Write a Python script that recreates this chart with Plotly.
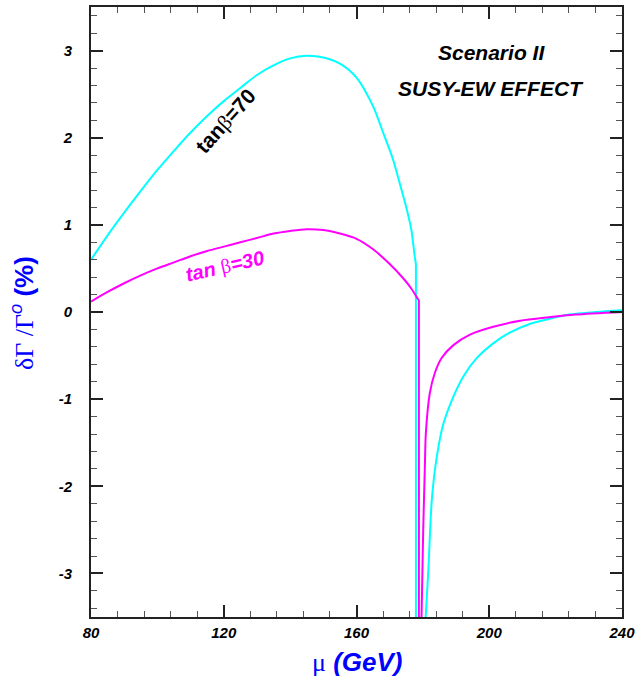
import plotly.graph_objects as go

# ---- data ----
# tan(beta)=70 (cyan)
mu_c_left = [80, 85, 90, 95, 100, 105, 110, 115, 120, 125, 130, 135, 140, 145,
             150, 155, 160, 165, 168, 171, 173, 175, 176.5, 177.6, 177.9]
dg_c_left = [0.60, 0.88, 1.14, 1.39, 1.63, 1.85, 2.06, 2.25, 2.42, 2.57, 2.72, 2.83, 2.91, 2.94,
             2.92, 2.85, 2.69, 2.36, 2.06, 1.75, 1.48, 1.20, 0.95, 0.62, 0.55]
mu_c_right = [180.5, 181.0, 181.7, 182.7, 184.2, 186.2, 189.2, 192.2, 196.2, 201.2,
              206, 212, 218, 224, 232, 240]
dg_c_right = [-3.7, -3.4, -2.92, -2.15, -1.66, -1.28, -0.97, -0.74, -0.53, -0.36,
              -0.24, -0.14, -0.08, -0.03, 0.0, 0.02]

# tan(beta)=30 (magenta)
mu_m_left = [80, 85, 90, 95, 100, 105, 110, 115, 120, 125, 130, 135, 140, 145,
             150, 155, 160, 165, 170, 174, 176.5, 178.6, 178.8]
dg_m_left = [0.12, 0.23, 0.33, 0.42, 0.50, 0.57, 0.64, 0.70, 0.75, 0.80, 0.85, 0.90, 0.93, 0.95,
             0.94, 0.90, 0.84, 0.72, 0.55, 0.39, 0.27, 0.145, 0.14]
mu_m_right = [179.5, 179.9, 180.1, 180.6, 180.9, 182.1, 183.6, 185.6, 189.2, 194.2,
              201.2, 209.3, 218, 226, 240]
dg_m_right = [-3.7, -2.9, -2.5, -1.77, -1.39, -0.93, -0.70, -0.53, -0.38, -0.26,
              -0.17, -0.10, -0.06, -0.03, 0.0]

# the curves fall off the bottom of the frame at the threshold
dg_drop_bottom = -3.7

x_ticks = [80, 120, 160, 200, 240]
x_ticktext = ["80", "120", "160", "200", "240"]
y_ticks = [-3, -2, -1, 0, 1, 2, 3]
y_ticktext = ["-3", "-2", "-1", "0", "1", "2", "3"]

CYAN = "#00ffff"
MAGENTA = "#ff00ff"
BLUE = "#0000ff"

fig = go.Figure()


def add_series(mu_l, dg_l, mu_r, dg_r, color, name):
    fig.add_trace(go.Scatter(x=mu_l, y=dg_l, mode="lines",
                             line=dict(color=color, width=2, shape="spline", smoothing=0.8),
                             name=name))
    fig.add_trace(go.Scatter(x=[mu_l[-1], mu_l[-1]], y=[dg_l[-1], dg_drop_bottom],
                             mode="lines", line=dict(color=color, width=2),
                             name=name, showlegend=False))
    fig.add_trace(go.Scatter(x=mu_r, y=dg_r, mode="lines",
                             line=dict(color=color, width=2, shape="spline", smoothing=0.8),
                             name=name, showlegend=False))


add_series(mu_c_left, dg_c_left, mu_c_right, dg_c_right, CYAN, "tanβ=70")
add_series(mu_m_left, dg_m_left, mu_m_right, dg_m_right, MAGENTA, "tanβ=30")

tickfont = dict(family="Liberation Sans, Arial", size=15, color="black",
                weight="bold", style="italic")

fig.update_xaxes(range=[80, 240], tickvals=x_ticks, ticktext=x_ticktext,
                 ticks="inside", ticklen=12, tickwidth=1.5, tickcolor="#222",
                 showline=True, linewidth=2, linecolor="#222", mirror="allticks",
                 showgrid=False, zeroline=False, tickfont=tickfont,
                 ticklabelstandoff=1, automargin=False,
                 minor=dict(dtick=8, tick0=80, ticks="inside", ticklen=6,
                            tickwidth=1.2, tickcolor="#555", showgrid=False))
fig.update_yaxes(range=[-3.5, 3.5], tickvals=y_ticks, ticktext=y_ticktext,
                 ticks="inside", ticklen=12, tickwidth=1.5, tickcolor="#222",
                 showline=True, linewidth=2, linecolor="#222", mirror="allticks",
                 showgrid=False, zeroline=False, tickfont=tickfont,
                 ticklabelstandoff=14, automargin=False,
                 minor=dict(dtick=0.2, tick0=0, ticks="inside", ticklen=6,
                            tickwidth=1.2, tickcolor="#555", showgrid=False))

serif = "font-family:'Liberation Serif','Times New Roman';font-weight:normal;font-style:normal"

PLOT_TOP, PLOT_BOT, PLOT_L, PLOT_R = 7, 617, 91, 622


def px_to_paper_y(py):
    return (PLOT_BOT - py) / (PLOT_BOT - PLOT_TOP)


def px_to_paper_x(px):
    return (px - PLOT_L) / (PLOT_R - PLOT_L)


def note(text, px, py, size, color, angle=0):
    return dict(text=text, x=px_to_paper_x(px), y=px_to_paper_y(py),
                xref="paper", yref="paper", xanchor="center", yanchor="middle",
                showarrow=False, textangle=angle,
                font=dict(family="Liberation Sans, Arial", size=size, color=color))


ann = [
    note("<b><i>Scenario II</i></b>", 491, 53, 21, "black"),
    note("<b><i>SUSY-EW EFFECT</i></b>", 491, 88, 21, "black"),
    note("<b>tan</b><span style=\"" + serif + "\">β</span><b>=70</b>", 226, 121, 21, "black", -48),
    note("<b><i>tan </i></b><span style=\"" + serif + "\">β</span><b><i>=30</i></b>", 225, 266, 20, MAGENTA, -13),
    note("<span style=\"" + serif + "\">δΓ /Γ</span><sup><i>o</i></sup> <b>(%)</b>", 22, 313, 26, BLUE, -90),
    note("<span style=\"" + serif + "\">μ</span> <b><i>(GeV)</i></b>", 357, 662, 26, BLUE),
]

fig.update_layout(width=639, height=684,
                  margin=dict(l=PLOT_L, r=639 - PLOT_R, t=PLOT_TOP, b=684 - PLOT_BOT),
                  paper_bgcolor="white", plot_bgcolor="white",
                  showlegend=False, annotations=ann)

fig.write_html("out.html")
